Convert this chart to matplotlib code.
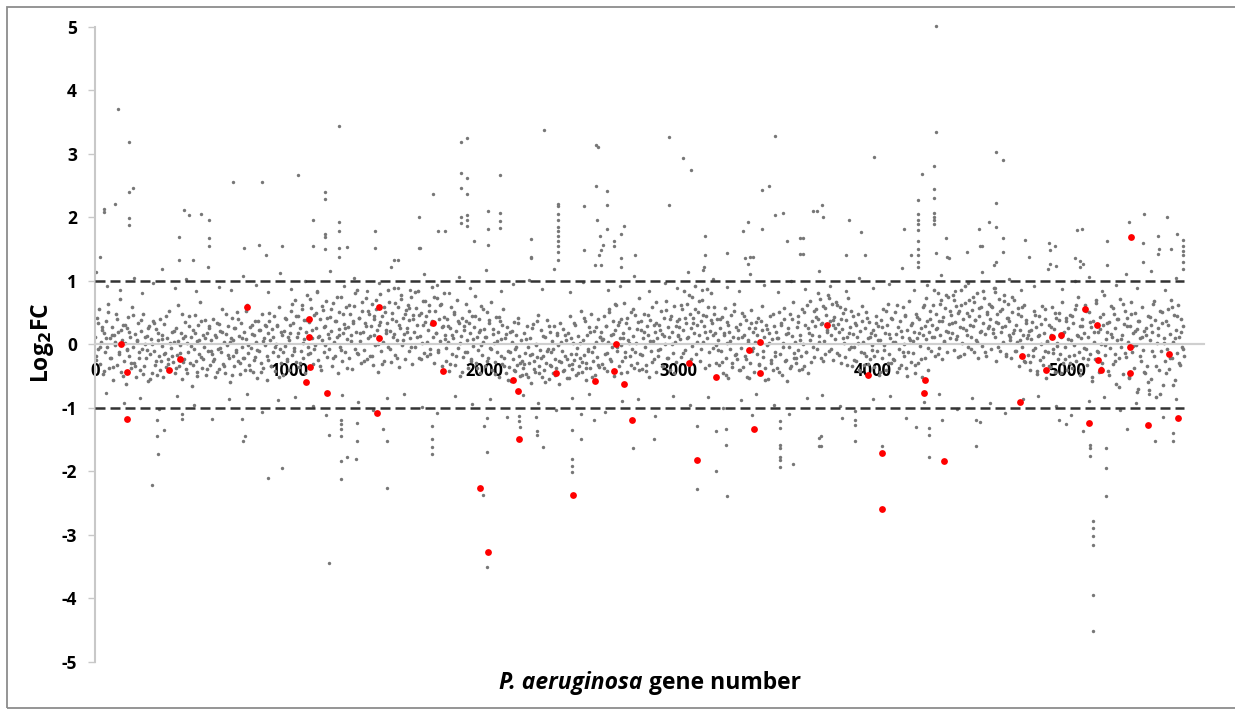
import numpy as np
import matplotlib
matplotlib.use('Agg')
import matplotlib.pyplot as plt
from matplotlib.patches import Rectangle

# ---------- plot settings ---------- #
matplotlib.rc('font', family=['Open Sans', 'DejaVu Sans'], weight='bold')

# ---------- data ---------- #
# log2FC for every 5th gene, rows of 100 genes (20 values per row)
band_step = 5
band_log2fc = [
    0.12, -0.25, 0.41, -0.08, 0.55, -0.31, 0.03, 0.22, -0.47, 0.18, -0.12, 0.36, -0.05, 0.64, -0.38, 0.09, -0.21, 0.27, -0.56, 0.14,
    -0.02, 0.48, -0.33, 0.19, -0.15, 0.71, -0.44, 0.07, 0.31, -0.26, 0.02, -0.62, 0.25, -0.09, 0.43, -0.18, 0.11, -0.37, 0.58, -0.04,
    -0.29, 0.16, -0.51, 0.05, 0.34, -0.13, -0.41, 0.21, -0.07, 0.47, -0.35, 0.01, -0.22, 0.13, -0.58, 0.29, -0.16, 0.08, -0.45, 0.37,
    -0.11, -0.32, 0.24, -0.48, 0.06, -0.19, 0.39, -0.27, -0.03, 0.15, -0.52, 0.32, -0.14, -0.36, 0.10, -0.24, 0.52, -0.41, -0.06, 0.20,
    -0.28, 0.04, -0.46, 0.26, -0.17, 0.61, -0.34, -0.01, 0.17, -0.55, 0.09, -0.23, 0.35, -0.39, 0.02, -0.12, 0.44, -0.30, 0.12, -0.66,
    0.23, -0.08, 0.46, -0.27, 0.05, -0.43, 0.30, -0.15, 0.67, -0.20, -0.37, 0.14, -0.05, 0.38, -0.49, 0.18, -0.10, 0.28, -0.33, 0.07,
    -0.16, 0.40, -0.24, -0.52, 0.11, 0.33, -0.07, -0.39, 0.21, -0.13, 0.56, -0.31, 0.03, -0.45, 0.16, -0.02, 0.29, -0.21, -0.60, 0.09,
    0.42, -0.18, 0.06, -0.35, 0.25, -0.09, 0.50, -0.26, 0.13, -0.47, 0.34, -0.04, -0.22, 0.19, -0.40, 0.08, 0.62, -0.14, -0.32, 0.27,
    -0.06, 0.31, -0.44, 0.15, -0.20, 0.04, -0.53, 0.37, -0.11, 0.22, -0.29, 0.48, -0.38, 0.10, -0.02, 0.28, -0.57, 0.17, -0.25, 0.36,
    0.07, -0.34, 0.24, -0.12, 0.45, -0.42, 0.01, 0.30, -0.19, 0.58, -0.08, -0.30, 0.14, -0.48, 0.21, -0.03, 0.39, -0.23, 0.11, -0.40,
    0.18, 0.52, -0.17, 0.33, -0.06, 0.70, -0.28, 0.12, 0.44, -0.36, 0.26, -0.10, 0.61, 0.02, -0.22, 0.38, -0.45, 0.20, 0.77, -0.05,
    0.35, -0.14, 0.57, 0.09, -0.31, 0.46, -0.02, 0.25, 0.82, -0.25, 0.13, 0.40, -0.40, 0.06, 0.54, -0.12, 0.29, 0.68, -0.20, 0.16,
    -0.08, 0.43, 0.21, -0.35, 0.65, 0.03, -0.18, 0.37, 0.11, -0.46, 0.50, 0.24, -0.04, 0.74, -0.27, 0.17, 0.32, -0.13, 0.59, 0.08,
    0.27, -0.22, 0.48, 0.14, -0.39, 0.36, 0.60, -0.07, 0.20, 0.85, -0.16, 0.42, 0.05, -0.30, 0.53, 0.19, -0.09, 0.34, 0.72, -0.24,
    0.10, 0.47, -0.19, 0.28, 0.63, -0.33, 0.15, 0.39, -0.01, 0.56, 0.22, -0.43, 0.31, 0.79, -0.11, 0.45, 0.04, -0.26, 0.51, 0.18,
    0.33, -0.05, 0.66, 0.21, -0.28, 0.49, 0.12, 0.88, -0.17, 0.37, 0.06, 0.58, -0.36, 0.25, 0.71, -0.02, 0.41, 0.16, -0.23, 0.54,
    0.26, 0.62, -0.10, 0.38, 0.09, 0.75, -0.31, 0.46, 0.19, -0.04, 0.57, 0.30, 0.84, -0.21, 0.13, 0.49, 0.02, 0.68, -0.14, 0.35,
    0.44, -0.18, 0.23, 0.61, -0.07, 0.32, 0.90, 0.11, -0.29, 0.52, 0.17, 0.73, -0.12, 0.40, 0.05, 0.64, -0.34, 0.28, 0.81, 0.08,
    0.15, -0.27, 0.39, 0.04, -0.42, 0.26, 0.58, -0.15, 0.10, 0.47, -0.33, 0.21, 0.69, -0.06, 0.34, -0.50, 0.13, 0.42, -0.20, 0.29,
    -0.12, 0.36, 0.07, -0.38, 0.53, 0.18, -0.24, 0.45, -0.03, 0.27, 0.76, -0.30, 0.12, -0.09, 0.40, -0.46, 0.22, 0.60, -0.17, 0.03,
    0.24, -0.35, 0.11, 0.50, -0.21, 0.33, -0.06, 0.66, -0.40, 0.16, 0.02, -0.28, 0.43, -0.13, 0.20, -0.52, 0.37, 0.08, -0.31, 0.55,
    -0.22, 0.09, -0.45, 0.27, -0.11, -0.36, 0.19, -0.58, 0.04, -0.24, 0.35, -0.42, -0.08, 0.14, -0.33, 0.41, -0.19, -0.50, 0.06, -0.27,
    -0.38, 0.17, -0.14, -0.47, 0.28, -0.05, -0.30, 0.10, -0.61, -0.16, 0.32, -0.26, -0.43, 0.01, -0.20, 0.46, -0.35, -0.09, 0.23, -0.52,
    -0.18, -0.40, 0.12, -0.29, 0.38, -0.07, -0.55, 0.20, -0.33, -0.12, 0.05, -0.46, 0.29, -0.23, -0.37, 0.15, -0.02, -0.62, 0.33, -0.28,
    -0.10, 0.24, -0.41, -0.19, 0.07, -0.53, 0.18, -0.32, 0.44, -0.15, -0.39, 0.02, -0.25, 0.31, -0.48, -0.06, 0.13, -0.34, -0.21, 0.52,
    -0.44, 0.06, -0.17, 0.36, -0.30, -0.57, 0.14, -0.08, 0.27, -0.38, 0.48, -0.13, -0.27, 0.21, -0.49, 0.03, -0.20, 0.40, -0.36, 0.11,
    0.19, -0.31, 0.08, 0.44, -0.16, 0.28, -0.42, 0.03, 0.56, -0.23, 0.15, -0.05, 0.37, -0.50, 0.22, 0.61, -0.10, 0.30, -0.34, 0.09,
    -0.01, 0.40, -0.26, 0.17, 0.65, -0.12, 0.33, -0.44, 0.06, 0.25, -0.19, 0.51, -0.07, 0.13, -0.38, 0.46, 0.02, -0.29, 0.35, 0.72,
    -0.15, 0.23, -0.39, 0.10, 0.47, -0.04, -0.32, 0.29, 0.14, -0.51, 0.38, -0.11, 0.58, 0.05, -0.24, 0.20, -0.43, 0.34, 0.09, -0.18,
    0.31, -0.08, 0.52, 0.16, -0.35, 0.42, 0.01, 0.68, -0.21, 0.27, 0.11, -0.40, 0.45, 0.20, -0.14, 0.60, 0.04, -0.28, 0.37, 0.13,
    0.39, 0.08, -0.20, 0.55, 0.22, 0.83, -0.09, 0.34, 0.63, 0.12, -0.31, 0.47, 0.26, 0.74, -0.03, 0.41, 0.18, 0.92, -0.15, 0.30,
    0.50, 0.15, -0.26, 0.36, 0.70, 0.04, 0.28, -0.38, 0.45, 0.09, 0.59, -0.12, 0.21, 0.80, 0.33, -0.06, 0.48, 0.17, -0.29, 0.40,
    0.06, -0.33, 0.25, -0.10, 0.43, -0.45, 0.14, 0.57, -0.22, 0.02, 0.35, -0.54, 0.19, -0.07, 0.46, -0.30, 0.11, 0.64, -0.17, 0.27,
    -0.24, 0.10, -0.41, 0.32, -0.06, 0.49, -0.36, 0.15, -0.18, 0.38, -0.52, 0.07, 0.26, -0.29, 0.54, -0.11, 0.19, -0.43, 0.03, 0.35,
    -0.16, 0.42, -0.31, 0.05, -0.47, 0.23, 0.60, -0.20, 0.12, -0.37, 0.30, -0.02, -0.55, 0.17, 0.45, -0.25, 0.08, -0.40, 0.28, -0.12,
    0.20, -0.38, 0.09, 0.51, -0.15, 0.33, -0.48, 0.02, 0.39, -0.27, 0.16, -0.58, 0.25, -0.05, 0.47, -0.34, 0.13, 0.66, -0.21, 0.04,
    -0.30, 0.27, -0.09, 0.44, -0.40, 0.14, -0.19, 0.56, 0.01, -0.35, 0.31, -0.13, 0.62, -0.46, 0.18, 0.07, -0.28, 0.37, -0.04, 0.52,
    0.28, 0.55, -0.07, 0.40, 0.13, 0.71, -0.22, 0.34, 0.60, 0.05, -0.16, 0.46, 0.22, 0.78, -0.10, 0.37, 0.15, 0.63, -0.25, 0.30,
    0.43, 0.08, 0.67, -0.14, 0.32, 0.19, 0.58, -0.30, 0.24, 0.49, 0.02, -0.20, 0.38, 0.11, 0.73, -0.08, 0.27, 0.52, -0.35, 0.16,
    -0.05, 0.33, -0.27, 0.12, 0.48, -0.40, 0.21, -0.13, 0.60, 0.03, -0.32, 0.26, -0.18, 0.42, -0.50, 0.10, 0.35, -0.23, 0.17, -0.09,
    0.22, -0.36, 0.14, 0.45, -0.11, 0.29, -0.48, 0.07, 0.38, -0.21, 0.55, -0.02, 0.18, -0.41, 0.31, 0.63, -0.16, 0.09, -0.30, 0.40,
    0.04, -0.25, 0.50, 0.16, -0.43, 0.27, -0.08, 0.36, -0.33, 0.12, 0.58, -0.19, 0.01, 0.44, -0.37, 0.23, -0.12, 0.68, 0.06, -0.28,
    0.34, -0.14, 0.20, -0.45, 0.47, 0.10, -0.29, 0.39, -0.03, 0.26, -0.52, 0.15, 0.61, -0.22, 0.08, 0.36, -0.40, 0.19, 0.52, -0.10,
    0.30, 0.62, 0.12, -0.18, 0.48, 0.25, 0.81, -0.06, 0.37, 0.14, 0.69, -0.24, 0.43, 0.05, 0.57, 0.21, -0.12, 0.74, 0.32, 0.09,
    0.46, 0.18, 0.77, -0.09, 0.35, 0.60, 0.13, -0.20, 0.52, 0.27, 0.86, 0.02, 0.40, -0.15, 0.65, 0.23, 0.49, -0.05, 0.70, 0.31,
    0.11, 0.54, 0.28, -0.13, 0.66, 0.38, 0.07, 0.80, -0.22, 0.45, 0.19, 0.58, -0.03, 0.34, 0.72, 0.16, -0.18, 0.51, 0.26, 0.63,
    0.40, -0.07, 0.59, 0.24, 0.88, 0.12, -0.26, 0.47, 0.33, 0.71, -0.11, 0.20, 0.55, 0.04, 0.78, 0.29, -0.16, 0.42, 0.64, 0.15,
    0.36, 0.06, -0.21, 0.50, 0.17, 0.69, -0.10, 0.31, 0.03, 0.57, -0.34, 0.23, 0.45, -0.05, 0.14, 0.62, -0.28, 0.38, 0.09, -0.17,
    0.21, -0.40, 0.08, 0.35, -0.19, 0.52, -0.06, 0.27, -0.47, 0.13, 0.44, -0.25, 0.01, 0.60, -0.32, 0.18, -0.11, 0.39, -0.54, 0.05,
    -0.13, 0.30, -0.36, 0.15, 0.58, -0.08, 0.24, -0.44, 0.41, 0.02, -0.23, 0.49, -0.15, 0.12, 0.67, -0.30, 0.20, -0.05, 0.37, -0.41,
    0.26, -0.18, 0.46, 0.07, -0.37, 0.33, -0.02, 0.55, -0.26, 0.14, 0.74, -0.12, 0.29, -0.49, 0.09, 0.40, -0.21, 0.18, 0.62, -0.07,
    -0.33, 0.12, 0.51, -0.15, 0.27, -0.58, 0.36, 0.04, -0.24, 0.65, -0.10, 0.20, -0.44, 0.43, 0.01, -0.29, 0.31, 0.77, -0.17, 0.08,
    0.19, -0.42, 0.35, -0.06, 0.60, 0.11, -0.31, 0.47, -0.16, 0.25, -0.63, 0.06, 0.39, -0.22, 0.71, -0.04, 0.15, -0.47, 0.32, 0.53,
    -0.20, 0.41, 0.03, -0.52, 0.28, 0.66, -0.13, 0.17, -0.38, 0.49, -0.01, 0.24, -0.70, 0.36, 0.10, -0.27, 0.58, -0.09, 0.21, -0.45,
    0.14, -0.34, 0.45, -0.72, 0.07, 0.30, -0.55, 0.19, 0.63, -0.18, 0.38, -0.83, 0.02, 0.26, -0.41, 0.52, -0.11, 0.34, -0.64, 0.09,
    -0.26, 0.37, -0.08, 0.55, -0.39, 0.16, 0.70, -0.21, 0.04, 0.46, -0.57, 0.23, -0.14, 0.62, 0.11, -0.33, 0.40, -0.05, 0.28, -0.19,
]

# more genes in between: every 10th gene, rows of 200 genes
band2_step = 10
band2_log2fc = [
    -0.18, 0.33, -0.05, 0.27, -0.42, 0.09, 0.51, -0.22, 0.15, -0.36, 0.04, 0.40, -0.13, 0.23, -0.50, 0.31, -0.08, 0.19, -0.29, 0.46,
    -0.34, 0.06, -0.21, 0.38, -0.47, 0.12, -0.09, 0.26, -0.55, 0.01, 0.33, -0.26, 0.17, -0.40, 0.08, -0.15, 0.44, -0.31, 0.02, -0.19,
    0.21, -0.37, 0.05, -0.14, 0.48, -0.28, 0.13, -0.45, 0.29, -0.03, -0.33, 0.18, -0.50, 0.07, 0.36, -0.24, 0.10, -0.39, 0.25, -0.11,
    -0.27, 0.14, -0.43, 0.32, -0.06, 0.20, -0.35, 0.47, -0.17, 0.03, -0.48, 0.26, -0.12, 0.39, -0.30, 0.09, -0.21, 0.53, -0.02, -0.41,
    0.16, -0.25, 0.37, -0.09, 0.22, -0.44, 0.05, 0.31, -0.18, 0.49, -0.34, 0.11, -0.04, 0.28, -0.52, 0.19, -0.13, 0.42, -0.27, 0.06,
    0.30, 0.64, -0.11, 0.45, 0.17, -0.29, 0.56, 0.08, 0.38, -0.16, 0.71, 0.23, -0.07, 0.49, 0.12, -0.34, 0.60, 0.27, -0.02, 0.42,
    0.09, 0.55, -0.21, 0.36, 0.74, 0.14, -0.09, 0.47, 0.25, -0.38, 0.62, 0.05, 0.33, 0.80, -0.14, 0.41, 0.18, 0.67, -0.26, 0.29,
    0.52, 0.13, -0.18, 0.44, 0.70, 0.01, 0.35, -0.31, 0.58, 0.22, 0.86, -0.08, 0.40, 0.16, 0.65, -0.22, 0.31, 0.77, 0.06, 0.48,
    0.20, 0.57, -0.05, 0.39, 0.82, 0.11, 0.46, -0.24, 0.30, 0.68, 0.03, 0.53, -0.15, 0.36, 0.74, 0.18, -0.09, 0.61, 0.27, 0.43,
    -0.06, 0.28, -0.31, 0.14, 0.51, -0.19, 0.37, 0.02, -0.43, 0.22, 0.64, -0.12, 0.33, -0.27, 0.08, 0.45, -0.37, 0.19, -0.02, 0.56,
    0.11, -0.26, 0.38, -0.08, 0.24, -0.47, 0.05, 0.43, -0.19, 0.30, -0.35, 0.16, -0.56, -0.13, 0.21, -0.40, -0.04, 0.33, -0.29, -0.48,
    -0.31, 0.08, -0.52, -0.17, 0.25, -0.39, -0.02, 0.36, -0.45, -0.22, 0.13, -0.60, -0.10, 0.29, -0.34, -0.07, -0.49, 0.18, -0.26, 0.03,
    -0.42, 0.15, -0.23, -0.54, 0.09, -0.31, 0.34, -0.16, -0.46, 0.02, -0.28, 0.41, -0.37, -0.11, 0.20, -0.51, -0.05, 0.27, -0.33, 0.12,
    0.07, -0.38, 0.29, -0.14, 0.50, -0.27, 0.16, 0.63, -0.05, 0.35, -0.45, 0.10, -0.20, 0.42, 0.02, -0.33, 0.55, -0.12, 0.24, -0.40,
    0.36, -0.17, 0.19, -0.42, 0.46, 0.05, -0.28, 0.31, 0.66, -0.09, 0.23, -0.35, 0.13, 0.54, -0.21, 0.39, 0.00, -0.46, 0.28, 0.15,
    0.27, 0.61, -0.14, 0.42, 0.10, 0.78, -0.24, 0.33, 0.55, 0.04, 0.68, -0.07, 0.46, 0.20, 0.87, -0.33, 0.38, 0.14, 0.59, -0.02,
    -0.09, 0.40, -0.28, 0.18, -0.49, 0.31, 0.05, -0.36, 0.52, -0.15, 0.22, -0.41, 0.12, 0.45, -0.23, 0.03, -0.53, 0.34, -0.06, 0.26,
    0.15, -0.33, 0.37, -0.11, -0.56, 0.24, 0.02, -0.29, 0.48, -0.18, 0.09, -0.44, 0.31, -0.04, 0.57, -0.25, 0.17, -0.38, 0.40, -0.14,
    -0.22, 0.35, 0.07, -0.39, 0.50, -0.12, 0.26, 0.68, 0.14, -0.20, 0.43, 0.80, 0.04, 0.32, -0.27, 0.57, 0.19, 0.72, -0.08, 0.38,
    0.25, 0.61, -0.17, 0.40, 0.09, 0.55, -0.33, 0.18, -0.05, 0.44, -0.25, 0.30, 0.02, -0.42, 0.36, -0.14, 0.51, -0.31, 0.11, -0.02,
    -0.19, 0.34, 0.06, -0.44, 0.27, -0.09, 0.52, -0.30, 0.16, 0.41, -0.23, 0.03, 0.62, -0.38, 0.21, -0.12, 0.46, -0.50, 0.10, 0.30,
    0.05, -0.33, 0.43, 0.17, -0.24, 0.58, 0.29, 0.72, -0.06, 0.40, 0.12, 0.85, 0.24, -0.15, 0.63, 0.36, 0.04, 0.78, 0.19, 0.52,
    0.33, 0.70, 0.08, 0.49, -0.18, 0.62, 0.26, 0.91, 0.15, 0.44, -0.08, 0.75, 0.38, 0.03, 0.57, 0.21, 0.83, -0.12, 0.47, 0.29,
    0.60, 0.18, 0.82, 0.35, -0.04, 0.53, 0.27, 0.68, -0.19, 0.41, 0.11, 0.74, 0.22, -0.10, 0.48, 0.06, 0.59, -0.26, 0.33, 0.14,
    -0.28, 0.23, -0.09, 0.46, -0.42, 0.14, 0.32, -0.20, 0.55, 0.04, -0.35, 0.27, -0.14, 0.49, -0.03, 0.38, -0.46, 0.17, -0.24, 0.41,
    0.08, -0.30, 0.44, -0.17, 0.61, 0.13, -0.41, 0.29, -0.06, 0.52, -0.23, 0.35, -0.52, 0.19, 0.70, -0.12, 0.24, -0.38, 0.47, -0.01,
    0.33, -0.48, 0.16, 0.57, -0.26, 0.40, -0.67, 0.08, 0.63, -0.14, 0.29, -0.54, 0.48, -0.03, 0.21, -0.76, 0.37, -0.19, 0.12, -0.43,
    0.26, -0.59, 0.43, -0.11, 0.68, -0.35, 0.15, -0.78, 0.51, 0.02, -0.46, 0.31, -0.22, 0.59, -0.65, 0.10, 0.44, -0.30, 0.20, -0.08,
]

# gray points near the +/-1 cut-offs
fringe_gene = [5, 60, 130, 200, 240, 300, 345, 410, 470, 520, 580, 640, 700, 760, 830, 890, 950, 1010, 1080, 1140,
               1210, 1280, 1330, 1400, 1460, 1520, 1560, 1620, 1690, 1760, 1820, 1870, 1930, 2010, 2090, 2150, 2230, 2300, 2360, 2440,
               2510, 2570, 2640, 2700, 2770, 2850, 2930, 2990, 3050, 3120, 3180, 3250, 3310, 3370, 3440, 3510, 3580, 3650, 3720, 3780,
               3860, 3930, 4000, 4080, 4150, 4210, 4280, 4350, 4420, 4490, 4560, 4630, 4700, 4760, 4830, 4900, 4970, 5040, 5110, 5180,
               5250, 5300, 5360, 5430, 5500, 5560,
               57, 150, 230, 330, 420, 510, 600, 690, 780, 860, 940, 1030, 1120, 1190, 1270, 1350, 1430, 1500, 1590, 1680,
               1760, 1850, 1940, 2030, 2120, 2200, 2280, 2370, 2450, 2540, 2620, 2710, 2790, 2880, 2970, 3060, 3150, 3230, 3320, 3400,
               3490, 3570, 3660, 3740, 3830, 3910, 4000, 4090, 4170, 4260, 4340, 4430, 4510, 4600, 4680, 4770, 4850, 4940, 5020, 5110,
               5190, 5270, 5350, 5420, 5490, 5560]
fringe_log2fc = [1.13, 0.92, 0.85, 1.05, 0.81, 0.96, 1.18, 0.88, 1.02, 0.83, 1.21, 0.90, 0.86, 1.08, 0.94, 0.82, 1.12, 0.87, 0.99, 0.84,
                 1.15, 0.91, 1.04, 0.83, 0.97, 1.22, 0.89, 0.85, 1.10, 0.93, 0.81, 1.06, 0.88, 1.17, 0.84, 0.95, 1.01, 0.87, 1.19, 0.82,
                 0.98, 1.24, 0.86, 0.92, 1.07, 0.83, 0.96, 0.88, 1.14, 0.85, 1.03, 0.90, 0.84, 1.11, 0.94, 0.82, 1.00, 0.87, 1.16, 0.91,
                 0.83, 1.05, 0.89, 0.95, 1.20, 0.86, 0.93, 1.09, 0.84, 0.97, 1.13, 0.88, 1.02, 0.85, 0.91, 1.18, 0.87, 0.99, 1.06, 0.83,
                 0.94, 1.10, 0.89, 1.15, 0.86, 1.04,
                 -0.77, -0.92, -0.84, -1.02, -0.81, -0.95, -1.18, -0.86, -0.79, -1.06, -0.88, -0.83, -0.97, -1.12, -0.80, -0.91, -1.04, -0.85, -0.78, -0.99,
                 -1.09, -0.82, -0.94, -0.87, -1.15, -0.80, -0.93, -1.03, -0.84, -0.79, -1.07, -0.90, -0.86, -1.13, -0.81, -0.96, -0.83, -1.01, -0.88, -0.78,
                 -0.95, -1.10, -0.85, -0.80, -0.98, -1.05, -0.87, -0.82, -1.16, -0.91, -0.79, -1.02, -0.84, -0.93, -1.08, -0.86, -0.81, -0.97, -1.11, -0.89,
                 -0.83, -1.04, -0.92, -0.79, -1.14, -0.87]

# gray outliers
out_gene = [120, 175, 175, 197, 175, 175, 103, 48, 48, 26, 432, 432, 458, 482, 505, 545, 586, 586, 586, 711,
            768, 845, 857, 877, 964, 1046, 1122, 1122, 1183, 1183, 1183, 1183, 1183, 1256, 1256, 1256, 1256, 1256, 1297, 1440,
            1440, 1536, 1558, 1666, 1666, 1882, 1911, 1882, 1911, 1882, 1911, 1882, 1911, 1911, 1882, 1911, 1948, 1739, 1671, 1763,
            1799, 2080, 2080, 2080, 2080, 2021, 2021, 2021, 2242, 2242, 2242, 2308, 2380, 2380, 2380, 2380, 2380, 2380, 2380, 2380,
            2380, 2380, 2380, 2514, 2514, 2578, 2584, 2578, 2632, 2632, 2580, 2595, 2610, 2600, 2590, 2600, 2632, 2668, 2668, 2720,
            2707, 2707, 2707, 2775, 2949, 2949, 3021, 3066, 3138, 3138, 3130, 3125, 3252, 3334, 3357, 3340, 3370, 3385, 3360, 3432,
            3467, 3432, 3496, 3496, 3538, 3556, 3625, 3625, 3693, 3642, 3642, 3710, 3740, 3744, 3877, 3939, 3860, 3960, 4005, 4161,
            4229, 4229, 4229, 4229, 4229, 4229, 4229, 4229, 4229, 4229, 4196, 4253, 4315, 4315, 4315, 4324, 4324, 4315, 4315, 4315,
            4315, 4324, 4375, 4380, 4390, 4486, 4545, 4550, 4560, 4596, 4631, 4670, 4631, 4631, 4670, 4670, 4631, 4620, 4781, 4800,
            4905, 4936, 4910, 4910, 4940, 5050, 5076, 5040, 5065, 5065, 5080, 5201, 5201, 5319, 5393, 5390, 5390, 5465, 5470, 5465,
            5513, 5530, 5561, 5592, 5592, 5592, 5592, 5592, 5592,
            320, 320, 326, 356, 291, 445, 445, 757, 760, 770, 891, 963, 1203, 1203, 1263, 1263, 1263, 1263, 1263, 1263,
            1298, 1342, 1349, 1349, 1479, 1499, 1499, 1733, 1733, 1733, 1733, 2014, 2000, 2014, 1995, 2014, 2178, 2180, 2185, 2274,
            2274, 2270, 2304, 2454, 2454, 2454, 2454, 2499, 2497, 2568, 2768, 2876, 3093, 3093, 3194, 3194, 3245, 3245, 3247, 3380,
            3522, 3522, 3522, 3522, 3522, 3522, 3522, 3587, 3724, 3724, 3731, 3731, 3839, 3908, 3908, 3908, 4045, 4222, 4290, 4290,
            4290, 4355, 4528, 4528, 4550, 4955, 4990, 5078, 5116, 5116, 5116, 5129, 5129, 5129, 5129, 5129, 5129, 5198, 5198, 5198,
            5306, 5450, 5544, 5544]
out_log2fc = [3.70, 3.18, 2.40, 2.46, 1.98, 1.88, 2.21, 2.13, 2.08, 1.38, 1.69, 1.33, 2.12, 2.03, 1.33, 2.05, 1.96, 1.68, 1.54, 2.55,
              1.52, 1.56, 2.55, 1.40, 1.55, 2.67, 1.96, 1.54, 2.40, 2.28, 1.74, 1.69, 1.50, 3.43, 1.92, 1.79, 1.52, 1.37, 1.53, 1.79,
              1.52, 1.32, 1.33, 2.00, 1.52, 3.19, 3.25, 2.70, 2.61, 2.46, 2.37, 2.00, 2.04, 1.95, 1.91, 1.86, 1.62, 2.36, 1.52, 1.79,
              1.79, 2.67, 2.06, 1.94, 1.83, 2.09, 1.82, 1.56, 1.65, 1.38, 1.35, 3.38, 2.21, 2.17, 2.05, 1.95, 1.85, 1.78, 1.71, 1.62,
              1.55, 1.45, 1.33, 2.18, 1.48, 3.13, 3.10, 2.49, 2.42, 2.19, 1.95, 1.71, 1.56, 1.48, 1.41, 1.25, 1.81, 1.63, 1.55, 1.86,
              1.74, 1.36, 1.22, 1.40, 3.27, 2.20, 2.94, 2.75, 1.70, 1.41, 1.22, 1.17, 1.44, 1.79, 1.92, 1.36, 1.38, 1.37, 1.26, 2.43,
              2.49, 1.81, 3.28, 2.04, 2.07, 1.62, 1.68, 1.42, 2.10, 1.67, 1.42, 2.10, 2.20, 2.00, 1.96, 1.77, 1.40, 1.40, 2.95, 1.81,
              2.27, 2.05, 1.95, 1.90, 1.80, 1.62, 1.50, 1.40, 1.30, 1.22, 1.41, 2.68, 2.45, 2.30, 2.80, 3.34, 5.01, 2.06, 2.00, 1.95,
              1.90, 1.43, 1.67, 1.38, 1.35, 1.45, 1.81, 1.55, 1.55, 1.93, 3.03, 2.90, 2.22, 1.85, 1.68, 1.45, 1.30, 1.25, 1.64, 1.38,
              1.60, 1.55, 1.49, 1.27, 1.23, 1.80, 1.82, 1.36, 1.31, 1.22, 1.26, 1.62, 1.24, 1.92, 2.05, 1.60, 1.30, 1.71, 1.50, 1.42,
              2.00, 1.50, 1.73, 1.64, 1.55, 1.47, 1.41, 1.30, 1.18,
              -1.20, -1.45, -1.73, -1.35, -2.21, -1.10, -1.18, -1.18, -1.53, -1.45, -2.11, -1.95, -1.43, -3.44, -1.19, -1.25, -1.34, -1.45, -1.84, -2.12,
              -1.77, -1.80, -1.24, -1.53, -1.33, -1.52, -2.27, -1.29, -1.50, -1.62, -1.73, -1.17, -1.29, -1.70, -2.38, -3.51, -1.13, -1.21, -1.30, -1.37,
              -1.43, -1.15, -1.62, -1.35, -1.81, -1.92, -2.02, -1.50, -1.10, -1.19, -1.63, -1.49, -1.29, -2.28, -1.37, -1.99, -1.33, -1.58, -2.39, -1.11,
              -1.21, -1.32, -1.58, -1.63, -1.77, -1.82, -1.94, -1.88, -1.48, -1.61, -1.45, -1.61, -1.16, -1.19, -1.27, -1.53, -1.61, -1.30, -1.32, -1.43,
              -1.78, -1.19, -1.19, -1.61, -1.22, -1.20, -1.26, -1.37, -1.58, -1.63, -1.76, -2.78, -2.90, -3.02, -3.16, -3.95, -4.51, -1.64, -1.95, -2.39,
              -1.34, -1.52, -1.40, -1.52]

# highlighted genes (red)
hl_gene = [134, 163, 163, 380, 437, 780, 1102, 1102, 1105, 1085, 1191, 1462, 1462, 1448, 1739, 1791, 2151, 2176, 2182, 1979,
           2019, 2368, 2456, 2572, 2668, 2677, 2718, 2763, 3056, 3097, 3191, 3364, 3388, 3419, 3420, 3765, 3976, 4045, 4045, 4262,
           4267, 4364, 4756, 4768, 4889, 4922, 4967, 5091, 5109, 5152, 5155, 5174, 5321, 5323, 5325, 5416, 5520, 5568]
hl_log2fc = [0.00, -0.43, -1.18, -0.41, -0.24, 0.58, 0.39, 0.12, -0.36, -0.60, -0.77, 0.59, 0.10, -1.08, 0.33, -0.42, -0.56, -0.74, -1.49, -2.26,
             -3.28, -0.46, -2.38, -0.58, -0.42, 0.00, -0.62, -1.19, -0.30, -1.83, -0.52, -0.09, -1.34, 0.03, -0.45, 0.30, -0.48, -1.71, -2.59, -0.77,
             -0.56, -1.84, -0.91, -0.18, -0.41, 0.11, 0.14, 0.55, -1.24, 0.30, -0.25, -0.41, -0.04, -0.46, 1.69, -1.27, -0.16, -1.16]

x_ticks = [0, 1000, 2000, 3000, 4000, 5000]
y_ticks = [-5, -4, -3, -2, -1, 0, 1, 2, 3, 4, 5]
cutoff = 1

# ---------- plot ---------- #
fig = plt.figure(figsize=(12.35, 7.11), dpi=100)
fig.patches.append(Rectangle((7 / 1235, 3 / 711), 1.2, 701 / 711, transform=fig.transFigure,
                             fill=False, edgecolor='#8c8c8c', linewidth=1.3))
ax = fig.add_axes([95 / 1235, 1 - 661.7 / 711, 1108.6 / 1235, 635 / 711])

band_gene = np.arange(len(band_log2fc)) * band_step + 2
band2_gene = np.arange(len(band2_log2fc)) * band2_step + 5
gray = '#777777'
ax.axhline(0, color='#cfcfcf', linewidth=1.5, zorder=1)
ax.scatter(band_gene, band_log2fc, s=7, color=gray, linewidths=0, zorder=2)
ax.scatter(band2_gene, band2_log2fc, s=7, color=gray, linewidths=0, zorder=2)
ax.scatter(fringe_gene, fringe_log2fc, s=6, color=gray, linewidths=0, zorder=2)
ax.scatter(out_gene, out_log2fc, s=6, color=gray, linewidths=0, zorder=2, clip_on=False)
ax.hlines([cutoff, -cutoff], 0, 5600, colors='#333333', linestyles=(0, (4, 2)), linewidth=1.8, zorder=3)
ax.scatter(hl_gene, hl_log2fc, s=24, color='#ff0000', linewidths=0, zorder=4)

ax.set_xlim(0, 5700)
ax.set_ylim(-5, 5)
for side in ['top', 'right']:
    ax.spines[side].set_visible(False)
ax.spines['bottom'].set_position(('data', 0))
ax.spines['bottom'].set_color('#cfcfcf')
ax.spines['bottom'].set_linewidth(1.5)
ax.spines['left'].set_color('#c8c8c8')
ax.spines['left'].set_linewidth(1.5)

ax.set_xticks(x_ticks)
ax.set_xticklabels([str(t) for t in x_ticks], fontsize=12, fontweight='bold')
ax.tick_params(axis='x', length=0, pad=13)
ax.set_yticks(y_ticks)
ax.set_yticklabels([str(t) for t in y_ticks], fontsize=12.5, fontweight='bold')
ax.tick_params(axis='y', length=5, width=1, color='#c8c8c8', pad=8)

fig.text(43 / 1235, 1 - 343 / 711, 'Log$_\\mathbf{2}$FC', rotation=90, ha='center', va='center',
         fontsize=16.5, fontweight='bold')

# x label: italic species name followed by upright text, centred as one line
xl_y = 1 - 683 / 711
t1 = fig.text(0, xl_y, 'P. aeruginosa', ha='left', va='center', fontsize=16.5,
              fontweight='bold', fontstyle='italic')
t2 = fig.text(0, xl_y, ' gene number', ha='left', va='center', fontsize=16.5, fontweight='bold')
renderer = fig.canvas.get_renderer()
w1 = t1.get_window_extent(renderer).width / fig.bbox.width
w2 = t2.get_window_extent(renderer).width / fig.bbox.width
x_start = 650 / 1235 - (w1 + w2) / 2
t1.set_x(x_start)
t2.set_x(x_start + w1)

fig.savefig('out.png', dpi=100, facecolor='white')
